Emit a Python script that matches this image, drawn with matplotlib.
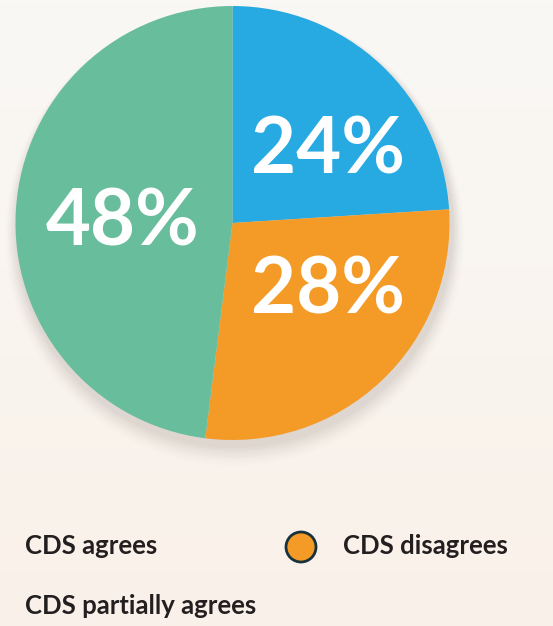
import numpy as np
import matplotlib.pyplot as plt
from matplotlib.patches import Circle

# data
labels = ['CDS disagrees', 'CDS agrees', 'CDS partially agrees']
shares = [24, 28, 48]
slice_labels = ['24%', '28%', '48%']
colors = ['#27A9E1', '#F49B27', '#68BD9D']

W, H = 553, 626
fig = plt.figure(figsize=(W / 100, H / 100), dpi=100)
ax = fig.add_axes([0, 0, 1, 1])

# soft background gradient (lighter at top, warmer at bottom)
grad = np.linspace(0, 1, 200).reshape(-1, 1)
top = np.array([250, 248, 245]) / 255
bot = np.array([249, 241, 233]) / 255
img = top + (bot - top) * grad[..., None]
ax.imshow(img, extent=[0, W, 0, H], aspect='auto', zorder=0)

cx, cy, r = 232.5, H - 223, 217

# shadow under the pie
for i, a in enumerate(np.linspace(0.05, 0.01, 8)):
    ax.add_patch(Circle((cx + 2, cy - 6 - i), r + 2 + i * 1.5, color='#8a7f78',
                        alpha=a, lw=0, zorder=1))

wedges, _ = ax.pie(shares, colors=colors, startangle=90, counterclock=False,
                   center=(cx, cy), radius=r, frame=True,
                   wedgeprops=dict(linewidth=0))
for w in wedges:
    w.set_zorder(2)
ax.set_xlim(0, W)
ax.set_ylim(0, H)
ax.set_aspect('auto')
ax.axis('off')

# percent labels
label_pos = [(328, H - 152), (328, H - 292), (123, H - 224)]
for (x, y), t in zip(label_pos, slice_labels):
    ax.text(x, y, t, color='white', fontsize=56, fontfamily='Lato',
            fontweight='bold', ha='center', va='center', zorder=3)

# legend
txt = '#231F20'
ax.text(25, H - 546, 'CDS agrees', fontsize=18.5, fontfamily='Lato',
        fontweight='bold', color=txt, va='center')
ax.add_patch(Circle((301, H - 547), 15, facecolor=colors[1], edgecolor='#17323a',
                    lw=2, zorder=3))
ax.text(343, H - 546, 'CDS disagrees', fontsize=18.5, fontfamily='Lato',
        fontweight='bold', color=txt, va='center')
ax.text(25, H - 606, 'CDS partially agrees', fontsize=18.5, fontfamily='Lato',
        fontweight='bold', color=txt, va='center')

fig.savefig('out.png', dpi=100)
